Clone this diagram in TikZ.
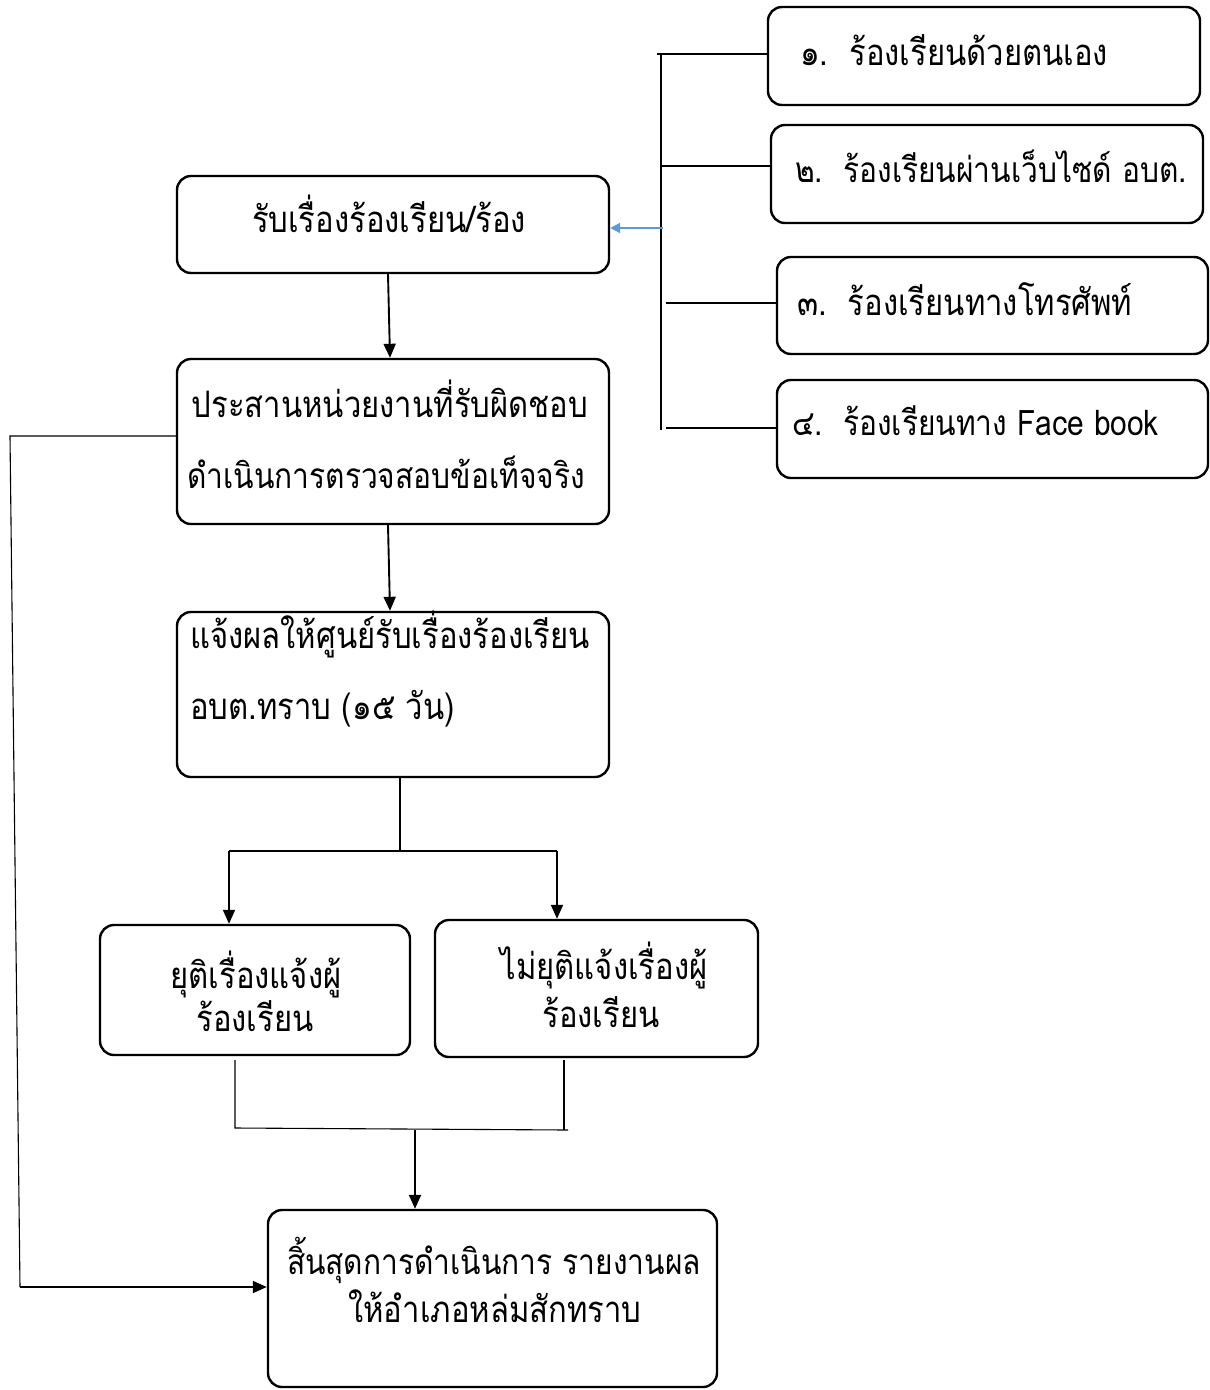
\documentclass[tikz,border=0pt]{standalone}
\usepackage{fontspec}
\usetikzlibrary{arrows.meta}
\newfontfamily\thai[Script=Thai,FakeStretch=0.85]{Loma}
\definecolor{arrowblue}{HTML}{5B9BD5}
\begin{document}
\begin{tikzpicture}[x=1pt,y=-1pt,
  box/.style={draw, line width=2.4pt, rounded corners=14pt, inner sep=0pt},
  txt/.style={font=\thai\fontsize{36.5}{40}\selectfont, anchor=base, inner sep=0pt},
  txtw/.style={txt, anchor=base west},
  small/.style={font=\thai\fontsize{35.2}{40}\selectfont},
  thinline/.style={line width=1.1pt},
  arr/.style={line width=1.9pt, -{Triangle[length=14pt,width=12pt]}},
  bluearr/.style={line width=2pt, draw=arrowblue, -{Triangle[length=10pt,width=10pt]}},
]
\useasboundingbox (0,0) rectangle (1210,1390);
% boxes
\node[box, minimum width=432pt, minimum height=97pt]  (A)  at (393,224.5) {};
\node[box, minimum width=432pt, minimum height=165pt] (B)  at (393,441.5) {};
\node[box, minimum width=432pt, minimum height=165pt] (C)  at (393,694.5) {};
\node[box, minimum width=310pt, minimum height=130pt] (D)  at (255,990) {};
\node[box, minimum width=323pt, minimum height=137pt] (E)  at (596.5,988.5) {};
\node[box, minimum width=449pt, minimum height=177pt] (F)  at (492.5,1298.5) {};
\node[box, minimum width=432pt, minimum height=98pt]  (R1) at (984,56) {};
\node[box, minimum width=432pt, minimum height=98pt]  (R2) at (987,174) {};
\node[box, minimum width=431pt, minimum height=97pt]  (R3) at (992.5,305.5) {};
\node[box, minimum width=431pt, minimum height=98pt]  (R4) at (992.5,429) {};
% texts
\node[txt] (tA)  at (389,232) {รับเรื่องร้องเรียน/ร้อง};
\node[txt] (tB1) at (390,417) {ประสานหน่วยงานที่รับผิดชอบ};
\node[txt, small] (tB2) at (386,488) {ดำเนินการตรวจสอบข้อเท็จจริง};
\node[txtw] (tC1) at (190,648) {แจ้งผลให้ศูนย์รับเรื่องร้องเรียน};
\node[txtw] (tC2) at (190,719) {อบต.ทราบ (๑๕ วัน)};
\node[txt] (tD1) at (256,988) {ยุติเรื่องแจ้งผู้};
\node[txt] (tD2) at (255,1031) {ร้องเรียน};
\node[txt] (tE1) at (604,979) {ไม่ยุติแจ้งเรื่องผู้};
\node[txt] (tE2) at (601,1027) {ร้องเรียน};
\node[txt, small] (tF1) at (494,1274) {สิ้นสุดการดำเนินการ\ รายงานผล};
\node[txt] (tF2) at (495,1322) {ให้อำเภอหล่มสักทราบ};
\node[txtw] (tR1) at (800,65)  {๑.\ \ ร้องเรียนด้วยตนเอง};
\node[txtw, small] (tR2) at (795,182) {๒.\ \ ร้องเรียนผ่านเว็บไซด์ อบต.};
\node[txtw] (tR3) at (797,315) {๓.\ \ ร้องเรียนทางโทรศัพท์};
\node[txtw, small] (tR4) at (792,435) {๔.\ \ ร้องเรียนทาง Face book};
% bracket on the right
\coordinate (bt) at (661,55);
\coordinate (bb) at (661,430);
\draw[thinline] (bt) -- (bb);
\coordinate (h1) at (657,54);
\coordinate (h2) at (662,166);
\coordinate (h3) at (666,303);
\coordinate (h4) at (666,428);
\draw[thinline] (h1) -- (h1 -| R1.west);
\draw[thinline] (h2) -- (h2 -| R2.west);
\draw[thinline] (h3) -- (h3 -| R3.west);
\draw[thinline] (h4) -- (h4 -| R4.west);
\coordinate (bl) at (663,228);
\draw[bluearr] (bl) -- (bl -| A.east);
% main flow
\draw[arr] ([xshift=-5pt]A.south) -- ([xshift=-3pt]B.north);
\draw[arr] ([xshift=-5pt]B.south) -- ([xshift=-3pt]C.north);
\coordinate (s)  at (400,851);
\coordinate (sl) at (229,851);
\coordinate (sr) at (557,851);
\draw[thinline] ([xshift=7pt]C.south) -- (s);
\draw[thinline] (sl) -- (sr);
\draw[arr] (sl) -- (sl |- D.north);
\draw[arr] (sr) -- (sr |- E.north);
% merge
\coordinate (m1) at (235,1060);
\coordinate (m2) at (235,1128);
\coordinate (m3) at (568,1130);
\coordinate (m4) at (564,1060);
\coordinate (m5) at (564,1130);
\draw[thinline] (m1) -- (m2) -- (m3);
\draw[thinline] (m4) -- (m5);
\coordinate (mc) at (415,1130);
\draw[arr] (mc) -- (mc |- F.north);
% left loop
\coordinate (l1) at (10,436);
\coordinate (l2) at (20,1287);
\draw[thinline] (l1 -| B.west) -- (l1) -- (l2);
\draw[arr] (l2) -- (l2 -| F.west);
\end{tikzpicture}
\end{document}
